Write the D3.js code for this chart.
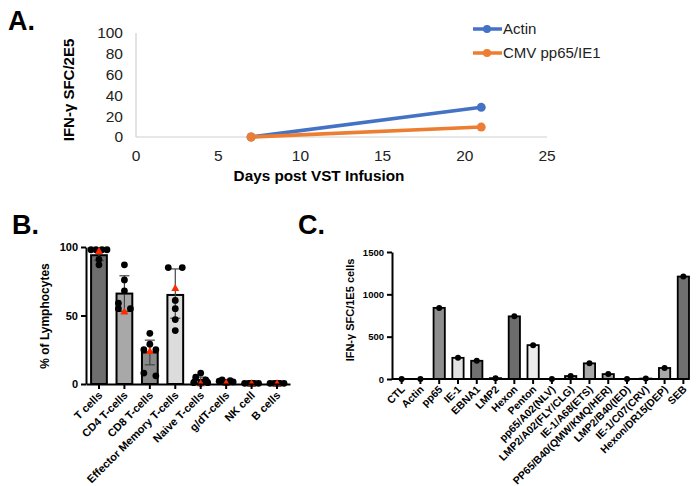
<!DOCTYPE html>
<html>
<head>
<meta charset="utf-8">
<script src="https://cdn.jsdelivr.net/npm/d3@7"></script>
<style>
  body { margin: 0; background: #fff; }
  svg { font-family: "Liberation Sans", Arial, sans-serif; }
</style>
</head>
<body>
<div id="chart"></div>
<script>
// ---- panel A data ----
const daysA = [7, 21];
const actinA = [0, 28.5];
const cmvA = [0, 9.5];
const seriesNamesA = ['Actin', 'CMV pp65/IE1'];
const ticksXA = [0, 5, 10, 15, 20, 25];
const ticksYA = [0, 20, 40, 60, 80, 100];

// ---- panel B data ----
const cellsB = ['T cells', 'CD4 T-cells', 'CD8 T-cells', 'Effector Memory T-cells',
  'Naive T-cells', 'g/dT-cells', 'NK cell', 'B cells'];
const meanB = [94, 66, 23, 65, 3, 2, 0.5, 0.5];
const errLoB = [90, 53, 14, 48, 0, 0, 0, 0];
const errHiB = [99, 79, 32, 84, 5, 3, 1, 1];
const donorsB = [
  [98, 98, 98, 98, 91, 87],
  [87, 76, 68, 59, 55, 55],
  [37, 29, 25, 25, 8, 6],
  [85, 85, 61, 55, 47, 39],
  [8, 5, 3, 1, 1, 0.5],
  [3, 2.5, 2, 1.5, 1, 1],
  [0.5, 0.5, 0.5, 0.5, 0.5, 0.5],
  [0.5, 0.5, 0.5, 0.5, 0.5, 0.5]
];
const patientB = [97, 53, 24, 70, 0.5, 1, 0.5, 0.5];
const fillsB = ['#6e6e6e', '#a8a8a8', '#8a8a8a', '#dcdcdc', '#8a8a8a', '#8a8a8a', '#8a8a8a', '#8a8a8a'];
const ticksYB = [0, 50, 100];

// ---- panel C data ----
const antigensC = ['CTL', 'Actin', 'pp65', 'IE-1', 'EBNA1', 'LMP2', 'Hexon', 'Penton',
  'pp65/A02(NLV)', 'LMP2/A02(FLY/CLG)', 'IE-1/A68(ETS)', 'PP65/B40(QMW/KMQ/HER)',
  'LMP2/B40(IED)', 'IE-1/C07(CRV)', 'Hexon/DR15(DEP)', 'SEB'];
const sfcC = [0, 0, 840, 250, 215, 10, 740, 400, 0, 35, 185, 58, 0, 5, 130, 1210];
const fillsC = ['#8c8c8c', '#8c8c8c', '#8e8e8e', '#e2e2e2', '#707070', '#a8a8a8', '#6c6c6c', '#ececec',
  '#8c8c8c', '#8c8c8c', '#a8a8a8', '#a0a0a0', '#8c8c8c', '#8c8c8c', '#a8a8a8', '#707070'];
const ticksYC = [0, 500, 1000, 1500];

const svg = d3.select('#chart').append('svg')
  .attr('width', 700).attr('height', 486);

// panel letters
[['A.', 8, 30], ['B.', 12, 234], ['C.', 298, 234]].forEach(([t, x, y]) => {
  svg.append('text').attr('x', x).attr('y', y)
    .attr('font-size', 27).attr('font-weight', 'bold').text(t);
});

// ================= Panel A =================
(function panelA() {
  const x = d3.scaleLinear().domain([0, 25]).range([136, 547]);
  const y = d3.scaleLinear().domain([0, 100]).range([137, 33]);
  const g = svg.append('g');

  g.append('line').attr('x1', x(0)).attr('x2', x(25)).attr('y1', y(0)).attr('y2', y(0))
    .attr('stroke', '#d0d0d0').attr('stroke-width', 1.2);
  g.append('line').attr('x1', x(0)).attr('x2', x(0)).attr('y1', y(0)).attr('y2', y(100))
    .attr('stroke', '#d0d0d0').attr('stroke-width', 1.2);

  g.selectAll('.ya').data(ticksYA).enter().append('text')
    .attr('x', 123).attr('y', d => y(d)).attr('dy', '0.35em')
    .attr('text-anchor', 'end').attr('font-size', 15.5).attr('fill', '#222')
    .text(d => d);
  g.selectAll('.xa').data(ticksXA).enter().append('text')
    .attr('x', d => x(d)).attr('y', 161)
    .attr('text-anchor', 'middle').attr('font-size', 15.5).attr('fill', '#222')
    .text(d => d);

  g.append('text').attr('x', 319).attr('y', 181).attr('text-anchor', 'middle')
    .attr('font-size', 15.3).attr('font-weight', 'bold').text('Days post VST Infusion');
  g.append('text').attr('transform', 'translate(74,90) rotate(-90)')
    .attr('text-anchor', 'middle').attr('font-size', 15).attr('font-weight', 'bold')
    .text('IFN-\u03b3 SFC/2E5');

  const colors = ['#4472c4', '#ed7d31'];
  const line = d3.line().x(d => x(d[0])).y(d => y(d[1]));
  [actinA, cmvA].forEach((vals, k) => {
    const pts = daysA.map((d, i) => [d, vals[i]]);
    g.append('path').datum(pts).attr('d', line)
      .attr('fill', 'none').attr('stroke', colors[k]).attr('stroke-width', 3.5);
    g.selectAll('.p' + k).data(pts).enter().append('circle')
      .attr('cx', d => x(d[0])).attr('cy', d => y(d[1])).attr('r', 4.5)
      .attr('fill', colors[k]);
    // legend
    const ly = 29 + k * 24;
    g.append('line').attr('x1', 473).attr('x2', 502).attr('y1', ly).attr('y2', ly)
      .attr('stroke', colors[k]).attr('stroke-width', 3.5);
    g.append('circle').attr('cx', 487).attr('cy', ly).attr('r', 4).attr('fill', colors[k]);
    g.append('text').attr('x', 503).attr('y', ly).attr('dy', '0.35em')
      .attr('font-size', 15).attr('fill', '#222').text(seriesNamesA[k]);
  });
})();

// ================= Panel B =================
(function panelB() {
  const x = d3.scaleBand().domain(cellsB).range([86, 290]).paddingInner(0.38).paddingOuter(0.2);
  const y = d3.scaleLinear().domain([0, 100]).range([384, 247]);
  const g = svg.append('g');
  const bw = x.bandwidth();

  g.selectAll('.bar').data(cellsB).enter().append('rect')
    .attr('x', d => x(d)).attr('width', bw)
    .attr('y', (d, i) => y(meanB[i])).attr('height', (d, i) => y(0) - y(meanB[i]))
    .attr('fill', (d, i) => fillsB[i]).attr('stroke', '#000').attr('stroke-width', 2);

  // jitter offsets so the donor dots do not sit on top of each other
  const offs = [
    [-8, -3, 3, 8, 0, 0],
    [0, 0, 0, -6, -6, 6],
    [0, 0, -6, 6, -6, 6],
    [-7, 7, 0, 0, 0, 0],
    [0, -5, 5, -7, 7, 0],
    [-4, 4, -7, 7, 0, 0],
    [-7, -3, 3, 7, 0, 0],
    [-7, -3, 3, 7, 0, 0]
  ];

  cellsB.forEach((c, i) => {
    const cx = x(c) + bw / 2;
    g.append('line').attr('x1', cx).attr('x2', cx).attr('y1', y(errLoB[i])).attr('y2', y(errHiB[i]))
      .attr('stroke', '#444').attr('stroke-width', 1.2);
    [errLoB[i], errHiB[i]].forEach(v => {
      g.append('line').attr('x1', cx - 5).attr('x2', cx + 5).attr('y1', y(v)).attr('y2', y(v))
        .attr('stroke', '#444').attr('stroke-width', 1.2);
    });
    donorsB[i].forEach((v, j) => {
      g.append('circle').attr('cx', cx + offs[i][j])
        .attr('cy', y(v)).attr('r', 3.4).attr('fill', '#000');
    });
    const ty = y(patientB[i]);
    g.append('path').attr('d', `M${cx},${ty - 4}L${cx + 4},${ty + 3}L${cx - 4},${ty + 3}Z`)
      .attr('fill', '#ff2a00');
  });

  const yAxis = d3.axisLeft(y).tickValues(ticksYB).tickSize(5).tickSizeOuter(0);
  const ya = g.append('g').attr('transform', 'translate(86,0)').call(yAxis);
  ya.select('.domain').attr('stroke', '#000').attr('stroke-width', 2);
  ya.selectAll('.tick line').attr('stroke-width', 2);
  ya.selectAll('text').attr('font-size', 11).attr('font-weight', 'bold')
    .attr('font-family', '"Liberation Sans", Arial, sans-serif').attr('fill', '#000');

  const xAxis = d3.axisBottom(x).tickSize(5).tickSizeOuter(0);
  const xa = g.append('g').attr('transform', 'translate(0,384)').call(xAxis);
  xa.select('.domain').attr('stroke', '#000').attr('stroke-width', 2);
  xa.selectAll('.tick line').attr('stroke-width', 2);
  xa.selectAll('text').attr('font-size', 11).attr('font-weight', 'bold')
    .attr('font-family', '"Liberation Sans", Arial, sans-serif').attr('fill', '#000')
    .attr('text-anchor', 'end').attr('dy', 0).attr('y', 0)
    .attr('transform', 'translate(4,12) rotate(-45)');

  g.append('text').attr('transform', 'translate(49,316) rotate(-90)')
    .attr('text-anchor', 'middle').attr('font-size', 12).attr('font-weight', 'bold')
    .text('% of Lymphocytes');
})();

// ================= Panel C =================
(function panelC() {
  const x = d3.scaleBand().domain(antigensC).range([396, 689]).paddingInner(0.4).paddingOuter(0);
  const y = d3.scaleLinear().domain([0, 1500]).range([379, 252]);
  const g = svg.append('g');
  const bw = x.bandwidth();

  g.selectAll('.bar').data(antigensC).enter().append('rect')
    .attr('x', d => x(d)).attr('width', bw)
    .attr('y', (d, i) => y(sfcC[i])).attr('height', (d, i) => y(0) - y(sfcC[i]))
    .attr('fill', (d, i) => fillsC[i]).attr('stroke', '#000').attr('stroke-width', 1.8);

  g.selectAll('.dot').data(antigensC).enter().append('circle')
    .attr('cx', d => x(d) + bw / 2).attr('cy', (d, i) => y(sfcC[i]))
    .attr('r', 3).attr('fill', '#000');

  const yAxis = d3.axisLeft(y).tickValues(ticksYC).tickFormat(d3.format('d')).tickSize(5).tickSizeOuter(0);
  const ya = g.append('g').attr('transform', 'translate(392,0)').call(yAxis);
  ya.select('.domain').attr('stroke', '#000').attr('stroke-width', 2);
  ya.selectAll('.tick line').attr('stroke-width', 2);
  ya.selectAll('text').attr('font-size', 9.5).attr('font-weight', 'bold')
    .attr('font-family', '"Liberation Sans", Arial, sans-serif').attr('fill', '#000');

  const xAxis = d3.axisBottom(x).tickSize(5).tickSizeOuter(0);
  const xa = g.append('g').attr('transform', 'translate(0,379)').call(xAxis);
  xa.select('.domain').attr('stroke', '#000').attr('stroke-width', 2).attr('d', 'M392,0H689');
  xa.selectAll('.tick line').attr('stroke-width', 2);
  xa.selectAll('text').attr('font-size', 10.5).attr('font-weight', 'bold')
    .attr('font-family', '"Liberation Sans", Arial, sans-serif').attr('fill', '#000')
    .attr('text-anchor', 'end').attr('dy', 0).attr('y', 0)
    .attr('transform', 'translate(4,11) rotate(-45)');

  g.append('text').attr('transform', 'translate(354,310) rotate(-90)')
    .attr('text-anchor', 'middle').attr('font-size', 11).attr('font-weight', 'bold')
    .text('IFN-\u03b3 SFC/1E5 cells');
})();
</script>
</body>
</html>
